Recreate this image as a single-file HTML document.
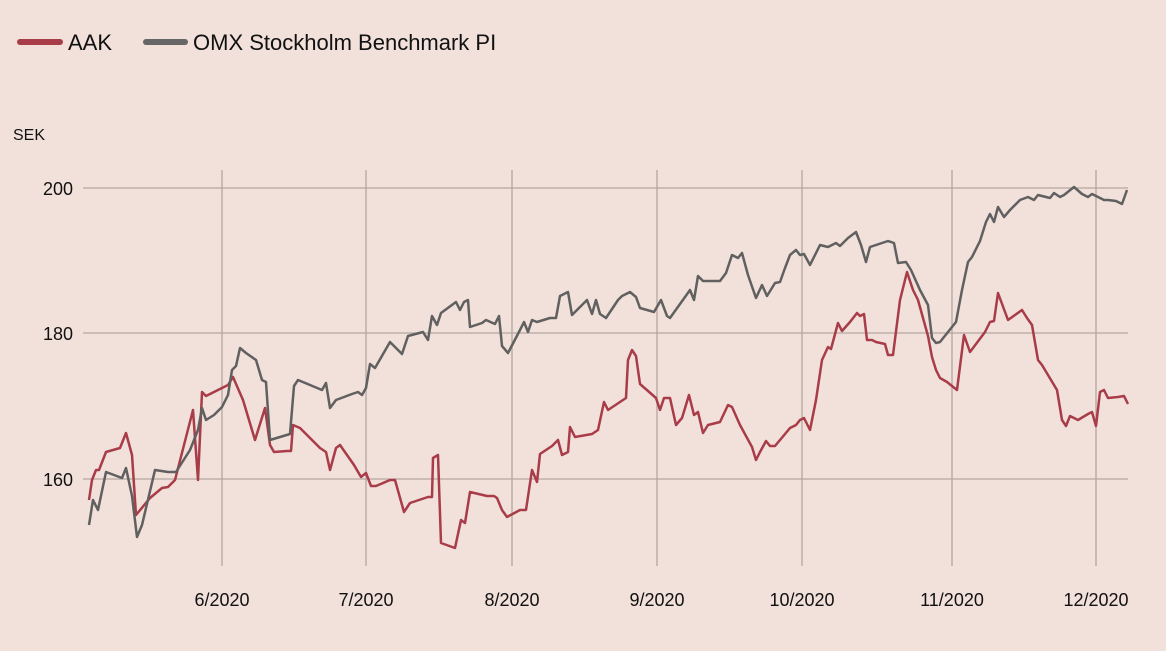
<!DOCTYPE html>
<html><head><style>
html,body{margin:0;padding:0;background:#f2e1da;}
svg{display:block;font-family:"Liberation Sans",sans-serif;}
</style></head><body>
<svg width="1166" height="651" viewBox="0 0 1166 651">
<rect width="1166" height="651" fill="#f2e1da"/>
<line x1="20" y1="42" x2="60" y2="42" stroke="#a83c48" stroke-width="6" stroke-linecap="round"/>
<text x="68" y="50" font-size="22" fill="#111">AAK</text>
<line x1="146" y1="42" x2="185" y2="42" stroke="#666" stroke-width="6" stroke-linecap="round"/>
<text x="193" y="50" font-size="22" fill="#111">OMX Stockholm Benchmark PI</text>
<text x="13" y="140" font-size="16" fill="#111">SEK</text>
<g stroke="#b4a6a0" stroke-width="1.3">
<line x1="83" y1="188" x2="1128" y2="188"/><line x1="83" y1="333" x2="1128" y2="333"/><line x1="83" y1="479" x2="1128" y2="479"/>
<line x1="222" y1="170" x2="222" y2="566"/><line x1="366" y1="170" x2="366" y2="566"/><line x1="512" y1="170" x2="512" y2="566"/><line x1="657" y1="170" x2="657" y2="566"/><line x1="802" y1="170" x2="802" y2="566"/><line x1="952" y1="170" x2="952" y2="566"/><line x1="1096" y1="170" x2="1096" y2="566"/>
</g>
<g font-size="18" fill="#111" text-anchor="end">
<text x="73" y="195">200</text><text x="73" y="340">180</text><text x="73" y="486">160</text>
</g>
<g font-size="18" fill="#111" text-anchor="middle">
<text x="222" y="606">6/2020</text><text x="366" y="606">7/2020</text><text x="512" y="606">8/2020</text><text x="657" y="606">9/2020</text><text x="802" y="606">10/2020</text><text x="952" y="606">11/2020</text><text x="1096" y="606">12/2020</text>
</g>
<polyline fill="none" stroke="#a83c48" stroke-width="2.5" stroke-linejoin="round" points="89,500 92,480 96,470 99,470 106,452 120,448 126,433 132,455 136,515 150,498 162,488 168,487 175,480 193,410 198,480 202,392 206,396 218,390 228,385 233,377 243,400 255,440 265,408 270,445 274,452 287,451 291,451 293,425 300,428 320,448 326,452 330,470 336,448 340,445 354,465 361,477 366,473 371,486 376,486 390,480 395,480 404,512 410,503 428,497 432,497 433,458 438,455 441,543 455,548 461,520 465,523 470,492 487,496 494,496 497,498 502,510 507,517 520,510 526,510 532,470 537,482 540,454 552,446 558,440 562,455 568,452 570,427 575,437 592,434 598,430 604,402 608,410 620,402 626,398 628,360 632,350 636,356 640,384 656,398 660,410 664,398 670,398 676,425 682,418 689,395 694,415 698,412 703,433 708,425 720,422 728,405 732,407 740,425 752,447 756,460 760,452 766,441 770,446 775,446 790,428 796,425 800,420 804,418 810,430 816,400 822,360 828,347 831,349 838,323 842,331 850,322 857,313 860,316 864,314 867,340 872,340 876,342 885,344 888,355 893,355 900,300 907,272 913,290 918,300 928,336 932,357 936,370 940,378 947,382 957,390 964,335 970,352 985,332 990,322 994,321 998,293 1008,320 1022,310 1027,318 1032,325 1038,360 1042,365 1057,390 1062,420 1066,426 1070,416 1078,420 1088,414 1092,412 1096,426 1100,392 1104,390 1108,398 1118,397 1124,396 1128,404"/>
<polyline fill="none" stroke="#606060" stroke-width="2.5" stroke-linejoin="round" points="89,525 93,500 98,510 106,472 122,478 126,468 132,496 137,537 142,525 155,470 168,472 176,472 190,450 198,430 202,408 206,420 214,415 222,407 228,395 232,370 236,366 240,348 246,353 256,360 262,380 266,382 270,440 290,434 294,386 298,380 322,390 326,383 330,408 336,400 352,394 358,392 362,395 366,388 370,364 375,368 390,342 402,354 408,336 423,332 428,340 432,316 437,325 441,313 456,302 460,310 464,302 468,300 470,327 482,323 486,320 495,324 499,316 502,346 508,353 520,330 524,322 528,332 532,320 537,322 550,318 556,318 560,296 568,292 572,315 587,300 592,314 596,300 600,314 606,318 618,300 622,296 630,292 636,297 640,308 654,312 661,300 667,316 670,318 690,290 694,300 698,276 703,281 720,281 726,273 732,255 738,258 742,253 748,275 756,298 762,285 767,296 775,283 780,282 785,268 790,255 796,250 800,255 804,254 810,265 820,245 828,247 836,243 840,246 848,238 856,232 861,245 866,262 870,247 888,241 894,243 898,263 906,262 911,270 920,290 928,305 932,338 936,343 940,342 956,322 962,290 968,262 972,257 980,241 986,222 990,214 994,222 998,207 1004,217 1010,210 1020,200 1028,197 1034,200 1038,195 1050,198 1054,193 1060,197 1064,195 1074,187 1082,194 1088,197 1092,194 1100,198 1104,200 1108,200 1116,201 1122,204 1127,190"/>
</svg>
</body></html>
